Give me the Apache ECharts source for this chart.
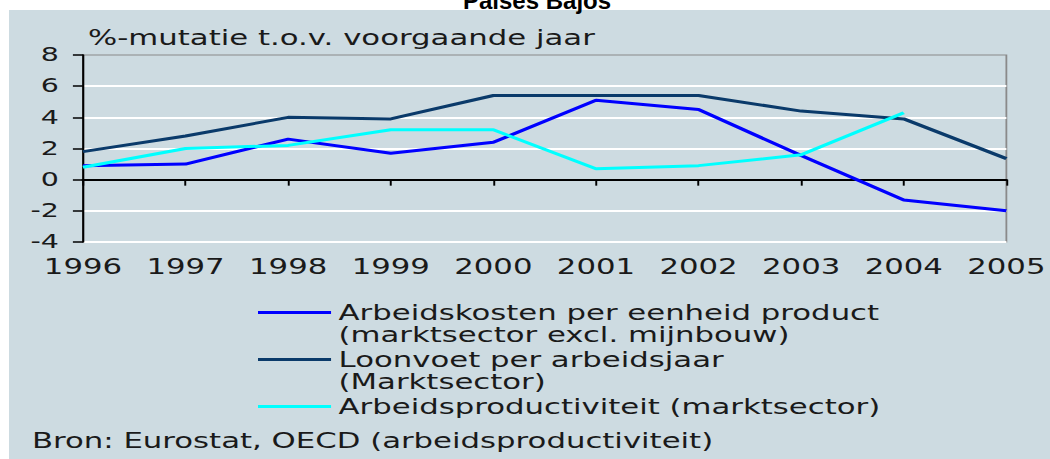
<!DOCTYPE html>
<html>
<head>
<meta charset="utf-8">
<script src="https://cdn.jsdelivr.net/npm/echarts@6/dist/echarts.min.js"></script>
<style>
    html, body { margin: 0; padding: 0; background: #ffffff; overflow: hidden; }
    /* the source picture is stretched sideways, so the chart is drawn narrow and widened */
    #main { width: 700px; height: 459px; transform: scaleX(1.5); transform-origin: 0 0; }
</style>
</head>
<body>
<div id="main"></div>
<script>
    var years = ['1996', '1997', '1998', '1999', '2000', '2001', '2002', '2003', '2004', '2005'];
    var arbeidskosten = [0.9, 1.0, 2.6, 1.7, 2.4, 5.1, 4.5, 1.55, -1.3, -2.0];
    var loonvoet = [1.8, 2.8, 4.0, 3.9, 5.4, 5.4, 5.4, 4.4, 3.9, 1.35];
    var productiviteit = [0.8, 2.0, 2.2, 3.2, 3.2, 0.7, 0.9, 1.6, 4.3, null];
    var namen = ['Arbeidskosten per eenheid product', 'Loonvoet per arbeidsjaar', 'Arbeidsproductiviteit (marktsector)'];

    var font = 'DejaVu Sans';
    var tekst = '20.5px "DejaVu Sans"';
    var myChart = echarts.init(document.getElementById('main'), null, { renderer: 'svg' });

    var option = {
        animation: false,
        graphic: [
            {
                type: 'rect', z: -10, silent: true,
                shape: { x: 6, y: 10, width: 700, height: 460 },
                style: { fill: '#cddbe1' }
            },
            {
                type: 'text', x: 358, y: 1, scaleX: 1 / 1.5,
                style: {
                    text: 'Países Bajos', fill: '#000', align: 'center', verticalAlign: 'middle',
                    font: 'bold 24px "Liberation Sans", Arial, sans-serif'
                }
            },
            {
                type: 'text', x: 58.7, y: 38,
                style: { text: '%-mutatie t.o.v. voorgaande jaar', fill: '#1a1a1a', verticalAlign: 'middle', font: tekst }
            },
            // second lines of the legend names
            {
                type: 'text', x: 225.7, y: 335,
                style: { text: '(marktsector excl. mijnbouw)', fill: '#1a1a1a', verticalAlign: 'middle', font: tekst }
            },
            {
                type: 'text', x: 225.7, y: 382,
                style: { text: '(Marktsector)', fill: '#1a1a1a', verticalAlign: 'middle', font: tekst }
            },
            {
                type: 'text', x: 21.3, y: 441,
                style: { text: 'Bron: Eurostat, OECD (arbeidsproductiviteit)', fill: '#1a1a1a', verticalAlign: 'middle', font: tekst }
            }
        ],
        grid: {
            left: 55.3,
            right: 26,
            top: 55,
            bottom: 217,
            show: true,
            borderColor: '#8a8a8a',
            borderWidth: 1.2
        },
        legend: {
            orient: 'vertical',
            left: 172,
            top: 302,
            padding: 0,
            itemWidth: 48.7,
            itemHeight: 3,
            itemGap: 26,
            icon: 'rect',
            data: namen,
            textStyle: { fontFamily: font, fontSize: 20.5, color: '#1a1a1a' }
        },
        xAxis: {
            type: 'category',
            data: years,
            boundaryGap: false,
            axisLine: { lineStyle: { color: '#000', width: 2 } },
            axisTick: { length: 6, lineStyle: { color: '#000', width: 1.3 } },
            axisLabel: { fontFamily: font, fontSize: 20.5, color: '#1a1a1a', margin: 14 },
            splitLine: { show: false }
        },
        yAxis: {
            type: 'value',
            min: -4,
            max: 8,
            interval: 2,
            axisLine: { show: true, lineStyle: { color: '#000', width: 1.4 } },
            axisTick: { show: true, length: 6.7, lineStyle: { color: '#000', width: 1.5 } },
            axisLabel: { fontFamily: font, fontSize: 19, color: '#1a1a1a', margin: 16 },
            splitLine: { show: true, showMaxLine: false, lineStyle: { color: '#ffffff', width: 2 } }
        },
        series: [
            {
                name: namen[0], type: 'line', data: arbeidskosten,
                showSymbol: false, color: '#0000ff',
                lineStyle: { width: 3, color: '#0000ff' }
            },
            {
                name: namen[1], type: 'line', data: loonvoet,
                showSymbol: false, color: '#0a3a6a',
                lineStyle: { width: 3, color: '#0a3a6a' }
            },
            {
                name: namen[2], type: 'line', data: productiviteit,
                showSymbol: false, color: '#00ffff',
                lineStyle: { width: 3, color: '#00ffff' }
            }
        ]
    };

    myChart.setOption(option);
</script>
</body>
</html>
